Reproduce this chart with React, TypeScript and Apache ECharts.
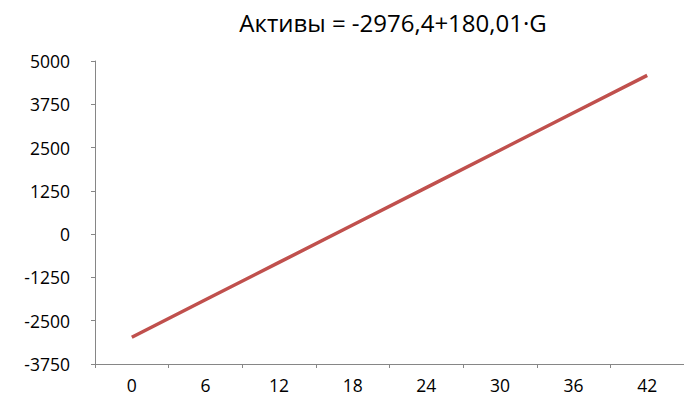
import React, { useEffect, useRef } from "react";
import * as echarts from "echarts";

// G values shown on the category axis
const categories: string[] = ["0", "6", "12", "18", "24", "30", "36", "42"];
// Активы along the fitted line
const assets: number[] = [-2976.4, -1896.3, -816.3, 263.8, 1343.8, 2423.9, 3504.0, 4584.0];
// Value axis range
const yMin = -3750;
const yMax = 5000;
const yStep = 1250;

const titleText = "Активы = -2976,4+180,01·G";

export default function App() {
  const ref = useRef<HTMLDivElement>(null);

  useEffect(() => {
    if (!ref.current) return;
    const chart = echarts.init(ref.current, undefined, { renderer: "svg" });
    const axisColor = "#868686";
    const font = "Open Sans, Liberation Sans, sans-serif";
    chart.setOption({
      animation: false,
      backgroundColor: "#ffffff",
      title: {
        text: titleText,
        left: 388,
        top: 5,
        textAlign: "center",
        textStyle: { fontFamily: font, fontSize: 24, fontWeight: "normal", color: "#000000" },
      },
      grid: { left: 95, top: 61, width: 600, height: 309, containLabel: false },
      xAxis: {
        type: "category",
        data: categories,
        boundaryGap: true,
        axisLine: { onZero: false, lineStyle: { color: axisColor, width: 1 } },
        axisTick: { show: true, length: 4, alignWithLabel: false, lineStyle: { color: axisColor } },
        axisLabel: { fontFamily: font, fontSize: 17.5, color: "#000000", margin: 12 },
        splitLine: { show: false },
      },
      yAxis: {
        type: "value",
        min: yMin,
        max: yMax,
        interval: yStep,
        axisLine: { show: true, lineStyle: { color: axisColor, width: 1 } },
        axisTick: { show: true, length: 4, lineStyle: { color: axisColor } },
        axisLabel: {
          fontFamily: font,
          fontSize: 17.5,
          color: "#000000",
          margin: 25,
          formatter: (v: number) => String(v),
        },
        splitLine: { show: false },
      },
      series: [
        {
          type: "line",
          data: assets,
          symbol: "none",
          lineStyle: { color: "#C0504D", width: 3.5 },
        },
      ],
    });
    return () => chart.dispose();
  }, []);

  return (
    <div
      ref={ref}
      style={{ position: "fixed", left: 0, top: 0, width: 684, height: 394, background: "#fff", overflow: "hidden" }}
    />
  );
}
